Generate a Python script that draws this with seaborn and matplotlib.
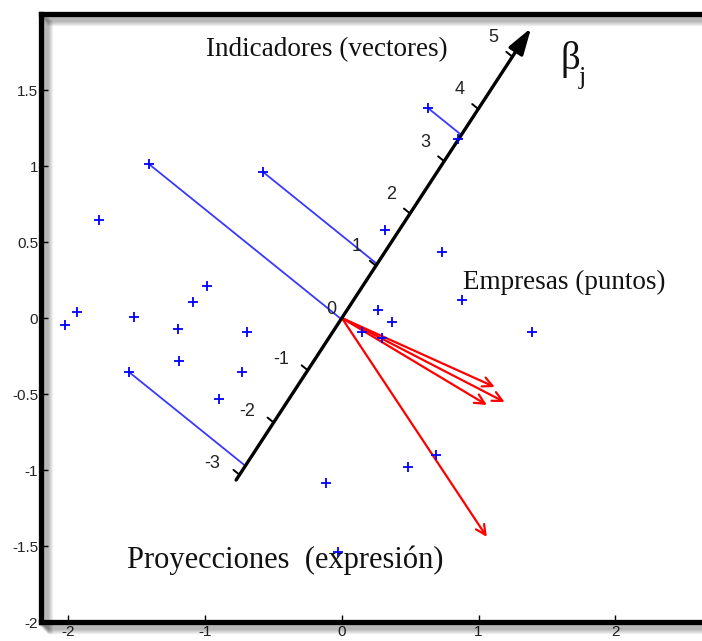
import numpy as np
import matplotlib
matplotlib.use("Agg")
import matplotlib.pyplot as plt
import matplotlib.patheffects as pe
import seaborn as sns

# Company scores (puntos)
emp_x = [-1.411, -0.577, -1.776, 0.629, 0.848, 0.314, 0.731, 0.877, 1.389,
         0.263, 0.365, 0.146, 0.292, 0.482, 0.687, -0.117, -0.029,
         -2.025, -1.937, -1.520, -1.199, -1.089, -0.987, -0.694,
         -1.191, -0.731, -0.899, -1.557]
emp_y = [1.013, 0.961, 0.645, 1.382, 1.178, 0.579, 0.434, 0.118, -0.095,
         0.053, -0.026, -0.092, -0.132, -0.980, -0.901, -1.086, -1.540,
         -0.046, 0.039, 0.007, -0.072, 0.105, 0.211, -0.092,
         -0.283, -0.355, -0.533, -0.355]

# Companies whose projection onto the indicator axis is drawn
proj_idx = [0, 1, 3, 27]

# Indicator vectors (vectores)
vec_x = [1.118, 1.060, 1.190, 1.060]
vec_y = [-0.454, -0.572, -0.553, -1.440]

# Biplot axis for beta_j: one unit along the axis, extent and graduation
beta_dir = [0.2494, 0.3438]
beta_range = [-3.1, 5.55]
beta_ticks = [-3, -2, -1, 0, 1, 2, 3, 4, 5]

xticks = [-2, -1, 0, 1, 2]
xtick_labels = ["-2", "-1", "0", "1", "2"]
yticks = [-2, -1.5, -1, -0.5, 0, 0.5, 1, 1.5]
ytick_labels = ["-2", "-1.5", "-1", "-0.5", "0", "0.5", "1", "1.5"]

sns.set_theme(style="white")
plt.rcParams["font.family"] = ["Liberation Sans", "DejaVu Sans"]
plt.rcParams["axes.unicode_minus"] = False
plt.rcParams["mathtext.fontset"] = "stix"

fig = plt.figure(figsize=(7.02, 6.41), dpi=100)
ax = fig.add_axes([41 / 702, 19 / 641, 5.0 * 136.75 / 702, 608 / 641])
ax.set_xlim(-2.2, 2.8)
ax.set_ylim(-2, 2)

# Heavy frame with a soft drop shadow
shadow = [pe.SimpleLineShadow(offset=(k * 0.75, -k * 0.75), shadow_color="black",
                              alpha=0.06, rho=1.0) for k in range(1, 10)]
for side in ["left", "top", "bottom"]:
    sp = ax.spines[side]
    sp.set_linewidth(3.8)
    sp.set_color("black")
    sp.set_path_effects(shadow + [pe.Normal()])
ax.spines["right"].set_visible(False)

ax.set_xticks(xticks, xtick_labels)
ax.set_yticks(yticks, ytick_labels)
ax.tick_params(direction="in", length=5, width=1, color="black",
               labelsize=11, labelcolor="#222222", pad=2,
               bottom=True, left=True)

d = np.array(beta_dir)
ex = np.array(emp_x)
ey = np.array(emp_y)

# Projection lines of selected companies onto the beta_j axis
for i in proj_idx:
    p = np.array([ex[i], ey[i]])
    t = p.dot(d) / d.dot(d)
    q = t * d
    ax.plot([p[0], q[0]], [p[1], q[1]], color="#3838ff", lw=1.3, zorder=2)

# Indicator vectors from the origin
for vx, vy in zip(vec_x, vec_y):
    ax.annotate("", xy=(vx, vy), xytext=(0, 0),
                arrowprops=dict(arrowstyle="->,head_length=0.5,head_width=0.25",
                                color="#ff0000", lw=1.6, mutation_scale=14,
                                shrinkA=0, shrinkB=0), zorder=3)

# beta_j axis with arrow head
p0 = beta_range[0] * d
p1 = beta_range[1] * d
ax.annotate("", xy=tuple(p1), xytext=tuple(p0),
            arrowprops=dict(arrowstyle="-|>,head_length=0.8,head_width=0.25",
                            color="black", lw=2.4, mutation_scale=20,
                            shrinkA=0, shrinkB=0), zorder=4)

# Graduation of the beta_j axis
nrm = np.array([-d[1], d[0]]) / np.hypot(*d) * 0.055
for k in beta_ticks:
    a = k * d
    if k != 0:
        b = a + nrm
        ax.plot([a[0], b[0]], [a[1], b[1]], color="black", lw=1.4, zorder=4)
    if k > 0:
        off = (-14, 19)
    elif k < 0:
        off = (-19, 11)
    else:
        off = (-5, 9)
    ax.annotate(str(k), xy=tuple(a), xytext=off, textcoords="offset pixels",
                ha="right", va="center", fontsize=13, color="#222222")

# Company points
sns.scatterplot(x=emp_x, y=emp_y, marker="+", s=60, color="#0000ff",
                linewidth=1.3, ax=ax, zorder=5, legend=False)

serif = ["Liberation Serif", "DejaVu Serif"]
ax.text(-0.11, 1.763, "Indicadores (vectores)", family=serif, fontsize=19.5,
        ha="center", va="center", color="#111111")
ax.text(1.60, 1.70, "β", family=serif, fontsize=28, ha="left",
        va="center", color="#111111")
ax.text(1.735, 1.58, "j", family=serif, fontsize=19, ha="left",
        va="center", color="#111111")
ax.text(1.623, 0.237, "Empresas (puntos)", family=serif, fontsize=19.5,
        ha="center", va="center", color="#111111")
ax.text(-0.417, -1.592, "Proyecciones  (expresión)", family=serif, fontsize=22,
        ha="center", va="center", color="#111111")

fig.savefig("out.png", dpi=100)
